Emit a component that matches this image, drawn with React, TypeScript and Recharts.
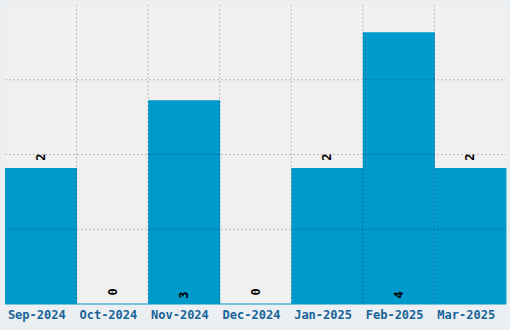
import { BarChart, Bar, XAxis, YAxis, CartesianGrid, LabelList, ReferenceLine } from "recharts";

const months = ["Sep-2024", "Oct-2024", "Nov-2024", "Dec-2024", "Jan-2025", "Feb-2025", "Mar-2025"];
const counts = [2, 0, 3, 0, 2, 4, 2];
const yTicks = [1.1, 2.2, 3.3];
const yMax = 4.4;

const data = months.map((month, i) => ({ month, count: counts[i] }));

const W = 510;
const H = 330;
const margin = { top: 5, right: 4, left: 5, bottom: 0 };
const plotH = H - margin.top - 26;
const gridStroke = "rgba(0,0,0,0.22)";

// vertical grid lines sit between categories, not on them
const boundaries = ({ offset }: any) => {
  const step = offset.width / months.length;
  return months.slice(1).map((_, i) => offset.left + step * (i + 1));
};

const renderLabel = (props: any) => {
  const { x, y, width, height, value } = props;
  const cx = x + width / 2;
  const bottom = y + height;
  let cy;
  if (value === 0) cy = bottom - 12;
  else if (height > plotH / 2) cy = bottom - 9;
  else cy = y - 11;
  return (
    <text
      x={cx}
      y={cy}
      transform={`rotate(-90 ${cx} ${cy})`}
      textAnchor="middle"
      dominantBaseline="central"
      fontFamily="DejaVu Sans Mono"
      fontWeight="bold"
      fontSize={12}
      fill="#000"
    >
      {value}
    </text>
  );
};

export default function App() {
  return (
    <div style={{ position: "absolute", left: 0, top: 0, width: W, height: H, background: "#eceff1" }}>
      <BarChart width={W} height={H} data={data} margin={margin} barCategoryGap={0}>
        <CartesianGrid fill="#f0f0f0" stroke="none" />
        <XAxis
          dataKey="month"
          height={26}
          tickLine={false}
          axisLine={{ stroke: "#0099cc", strokeWidth: 1 }}
          tickMargin={0}
          tick={{ fontFamily: "DejaVu Sans Mono", fontWeight: "bold", fontSize: 12, fill: "#17649a", dx: -4 }}
        />
        <YAxis hide domain={[0, yMax]} />
        <Bar dataKey="count" fill="#0099cc" isAnimationActive={false} />
      </BarChart>
      {/* grid and value labels drawn on top of the bars */}
      <div style={{ position: "absolute", left: 0, top: 0, pointerEvents: "none" }}>
        <BarChart width={W} height={H} data={data} margin={{ ...margin, bottom: 26 }} barCategoryGap={0}>
          <XAxis dataKey="month" hide />
          <YAxis hide domain={[0, yMax]} />
          <CartesianGrid
            stroke={gridStroke}
            strokeDasharray="2 2"
            horizontal={false}
            verticalCoordinatesGenerator={boundaries}
          />
          {yTicks.map((t) => (
            <ReferenceLine key={t} y={t} stroke={gridStroke} strokeDasharray="2 2" />
          ))}
          <Bar dataKey="count" fill="none" minPointSize={1} isAnimationActive={false}>
            <LabelList dataKey="count" content={renderLabel} />
          </Bar>
        </BarChart>
      </div>
    </div>
  );
}
